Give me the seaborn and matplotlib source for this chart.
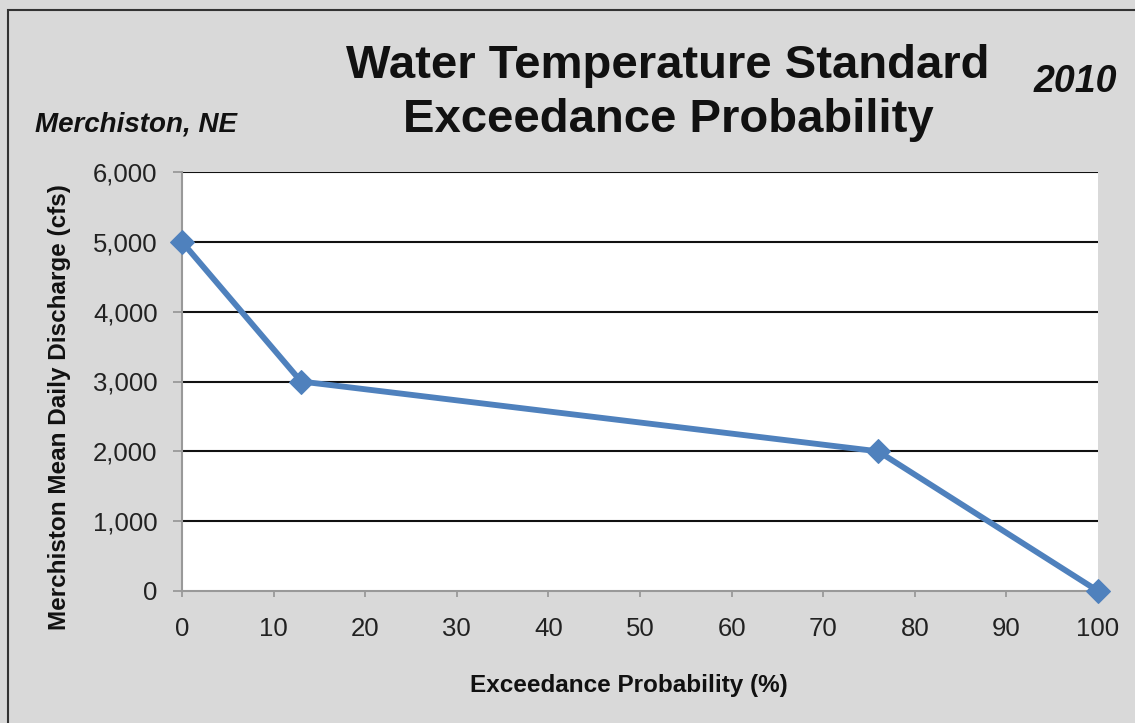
import matplotlib
matplotlib.use("Agg")
import matplotlib.pyplot as plt
import seaborn as sns
import pandas as pd
from matplotlib.patches import Rectangle

# Data
exceedance = [0, 13, 76, 100]
discharge = [5000, 3000, 2000, 0]
x_ticks = [0, 10, 20, 30, 40, 50, 60, 70, 80, 90, 100]
y_ticks = [0, 1000, 2000, 3000, 4000, 5000, 6000]

df = pd.DataFrame({"Exceedance Probability (%)": exceedance,
                   "Discharge": discharge})

sns.set_theme(style="white")
plt.rcParams['font.family'] = ['Liberation Sans', 'DejaVu Sans']

W, H = 1135, 723
fig = plt.figure(figsize=(W / 100, H / 100), dpi=100)
fig.patch.set_facecolor("#d9d9d9")

# outer frame (left and top edges visible)
fig.patches.append(Rectangle((8 / W, -0.1), 1.2, 1.1 - 10 / H,
                             transform=fig.transFigure, fill=False,
                             edgecolor="#333333", linewidth=1.5))

ax = fig.add_axes([182 / W, 1 - 591 / H, (1098 - 182) / W, (591 - 172) / H])
ax.set_facecolor("white")

sns.lineplot(data=df, x="Exceedance Probability (%)", y="Discharge", ax=ax,
             color="#4f81bd", linewidth=4.2, marker="D", markersize=12,
             markeredgecolor="#4f81bd", clip_on=False, zorder=5)

ax.set_xlim(0, 100)
ax.set_ylim(0, 6000)
ax.set_xticks(x_ticks)
ax.set_yticks(y_ticks)
ax.set_xticklabels([str(v) for v in x_ticks])
ax.set_yticklabels([f"{v:,}" for v in y_ticks])
ax.tick_params(axis="both", labelsize=18.5, colors="#999999", labelcolor="#222222",
               width=1.3)
ax.tick_params(axis="x", direction="out", bottom=True, length=4, pad=15)
ax.tick_params(axis="y", direction="out", left=True, length=6.5, pad=11)

for v in y_ticks[1:]:
    ax.axhline(v, color="#111111", linewidth=1.5, zorder=1)

for side in ["top", "right"]:
    ax.spines[side].set_visible(False)
for side in ["left", "bottom"]:
    ax.spines[side].set_visible(True)
    ax.spines[side].set_color("#999999")
    ax.spines[side].set_linewidth(1.5)

ax.set_xlabel("Exceedance Probability (%)", fontsize=17.5, fontweight="bold",
              color="#111111")
ax.set_ylabel("Merchiston Mean Daily Discharge (cfs)", fontsize=17.5,
              fontweight="bold", color="#111111")
ax.xaxis.set_label_coords((629 - 182) / 916, (591 - 674) / 419)
ax.yaxis.set_label_coords((71 - 182) / 916, (591 - 407) / 419)

fig.text(668 / W, 1 - 78 / H, "Water Temperature Standard", ha="center",
         va="baseline", fontsize=34, fontweight="bold", color="#111111")
fig.text(668 / W, 1 - 132 / H, "Exceedance Probability", ha="center",
         va="baseline", fontsize=34, fontweight="bold", color="#111111")
fig.text(1075 / W, 1 - 92 / H, "2010", ha="center", va="baseline",
         fontsize=27, fontweight="bold", style="italic", color="#111111")
fig.text(35 / W, 1 - 132 / H, "Merchiston, NE", ha="left", va="baseline",
         fontsize=20, fontweight="bold", style="italic", color="#111111")

fig.savefig("out.png", dpi=100, facecolor=fig.get_facecolor())
